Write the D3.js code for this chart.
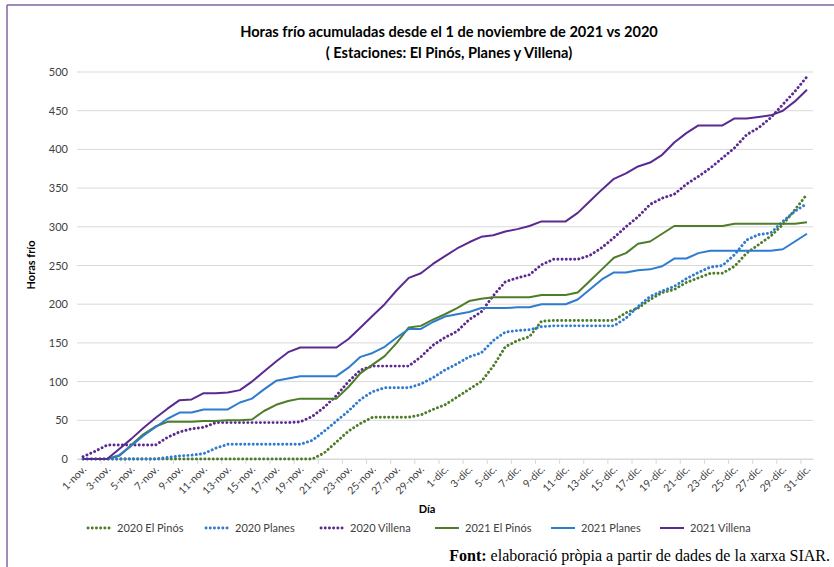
<!DOCTYPE html>
<html><head><meta charset="utf-8">
<script src="https://cdn.jsdelivr.net/npm/d3@7"></script>
<style>body{margin:0;background:#fff}svg{display:block}</style>
</head><body>
<svg id="c" width="834" height="567"></svg>
<script>
const categories = ["1-nov.","2-nov.","3-nov.","4-nov.","5-nov.","6-nov.","7-nov.","8-nov.","9-nov.","10-nov.",
"11-nov.","12-nov.","13-nov.","14-nov.","15-nov.","16-nov.","17-nov.","18-nov.","19-nov.","20-nov.",
"21-nov.","22-nov.","23-nov.","24-nov.","25-nov.","26-nov.","27-nov.","28-nov.","29-nov.","30-nov.",
"1-dic.","2-dic.","3-dic.","4-dic.","5-dic.","6-dic.","7-dic.","8-dic.","9-dic.","10-dic.",
"11-dic.","12-dic.","13-dic.","14-dic.","15-dic.","16-dic.","17-dic.","18-dic.","19-dic.","20-dic.",
"21-dic.","22-dic.","23-dic.","24-dic.","25-dic.","26-dic.","27-dic.","28-dic.","29-dic.","30-dic.","31-dic."];

const pinos2020 = [0,0,0,0,0,0,0,0,0,0,0,0,0,0,0,0,0,0,0,0,8,22,36,46,54,54,54,54,57,64,
70,80,90,100,120,145,153,158,178,179,179,179,179,179,179,189,195,206,215,219,228,234,240,240,249,266,277,288,303,322,342];
const planes2020 = [0,0,0,0,0,0,0,2,4,5,7,14,19,19,19,19,19,19,19,24,36,49,62,77,87,92,92,92,97,105,
115,123,132,137,153,164,166,167,171,172,172,172,172,172,172,182,197,210,217,223,233,241,248,250,264,283,290,292,307,320,330];
const villena2020 = [3,10,18,18,18,18,18,28,35,39,41,47,47,47,47,47,47,47,48,55,67,82,100,115,120,120,120,120,132,147,
157,165,180,190,211,229,234,238,251,258,258,258,263,273,286,300,313,329,337,342,355,365,376,389,402,419,428,441,458,475,494];
const pinos2021 = [0,0,0,4,18,32,42,48,48,48,49,49,50,50,51,62,70,75,78,78,78,78,93,111,122,133,150,170,172,180,
187,195,204,207,209,209,209,209,212,212,212,215,230,245,260,266,278,281,291,301,301,301,301,301,304,304,304,304,304,304,306];
const planes2021 = [0,0,0,5,17,30,41,52,60,60,64,64,64,73,78,90,101,104,107,107,107,107,118,132,137,145,157,168,168,177,
184,187,190,195,195,195,196,196,200,200,200,206,219,232,241,241,244,245,249,259,259,266,269,269,269,269,269,269,271,281,291];
const villena2021 = [0,0,0,13,26,40,53,65,76,77,85,85,86,89,100,113,126,138,144,144,144,144,155,170,185,200,218,234,240,252,
262,272,280,287,289,294,297,301,307,307,307,318,333,348,362,369,378,383,393,409,421,431,431,431,440,440,442,444,450,462,477];

const seriesNames = ["2020 El Pinós","2020 Planes","2020 Villena","2021 El Pinós","2021 Planes","2021 Villena"];
const seriesValues = [pinos2020, planes2020, villena2020, pinos2021, planes2021, villena2021];
const seriesColors = ["#4e7d2a","#2e7bcf","#5a2a90","#4e7d2a","#2e7bcf","#5a2a90"];
const seriesDotted = [true,true,true,false,false,false];
const yTicks = [0,50,100,150,200,250,300,350,400,450,500];

(function(){
const svg = d3.select("#c");
const pL = 77, pR = 813, pT = 72, pB = 459;

// frame
svg.append("line").attr("x1",7).attr("y1",5).attr("x2",834).attr("y2",5).attr("stroke","#8064a2").attr("stroke-width",1.5);
svg.append("line").attr("x1",7).attr("y1",5).attr("x2",7).attr("y2",567).attr("stroke","#8064a2").attr("stroke-width",1.5);

const x = d3.scaleBand().domain(categories).range([pL, pR]).paddingInner(0).paddingOuter(0);
const xc = c => x(c) + x.bandwidth()/2;
const y = d3.scaleLinear().domain([0,500]).range([pB, pT]);

// gridlines
svg.append("g").selectAll("line").data(yTicks).join("line")
  .attr("x1", pL).attr("x2", pR)
  .attr("y1", d => y(d)).attr("y2", d => y(d))
  .attr("stroke", "#d9d9d9").attr("stroke-width", 1);

// y axis labels
const yAxis = d3.axisLeft(y).tickValues(yTicks).tickSize(0).tickPadding(9);
const gy = svg.append("g").attr("transform", `translate(${pL},0)`).call(yAxis);
gy.select(".domain").remove();
gy.selectAll("text").attr("font-family","Lato, 'Open Sans', sans-serif").attr("font-size",11).attr("fill","#404040");

// x axis
const xAxis = d3.axisBottom(x).tickValues(categories.filter((c,i)=>i%2===0)).tickSize(0).tickFormat(d=>d);
const gx = svg.append("g").attr("transform", `translate(0,${pB})`).call(xAxis);
gx.select(".domain").attr("stroke","#d9d9d9");
gx.selectAll(".tick text")
  .attr("font-family","Lato, 'Open Sans', sans-serif").attr("font-size",10.5).attr("fill","#404040")
  .attr("text-anchor","end").attr("dy",0).attr("y",0)
  .attr("transform","translate(4,11) rotate(-45)");
svg.append("g").selectAll("line").data(categories.filter((c,i)=>i%2===0 && i>0)).join("line")
  .attr("x1", d => x(d)).attr("x2", d => x(d))
  .attr("y1", pB).attr("y2", pB+5)
  .attr("stroke","#d9d9d9");

// lines
const line = d3.line().x((d,i)=>xc(categories[i])).y(d=>y(d));
seriesValues.forEach((vals, k) => {
  const p = svg.append("path").datum(vals).attr("d", line)
    .attr("fill","none").attr("stroke", seriesColors[k]);
  if (seriesDotted[k]) {
    p.attr("stroke-width",2.9).attr("stroke-dasharray","0.1 4.1").attr("stroke-linecap","round");
  } else {
    p.attr("stroke-width",2).attr("stroke-linejoin","round");
  }
});

// titles
svg.append("text").attr("x",449).attr("y",37).attr("text-anchor","middle")
  .attr("font-family","Lato, sans-serif").attr("font-weight","bold").attr("font-size",14.6).attr("fill","#000")
  .text("Horas frío acumuladas desde el 1 de noviembre de 2021 vs 2020");
svg.append("text").attr("x",449).attr("y",58).attr("text-anchor","middle")
  .attr("font-family","Lato, sans-serif").attr("font-weight","bold").attr("font-size",14.6).attr("fill","#000")
  .text("( Estaciones: El Pinós, Planes y Villena)");

svg.append("text").attr("transform","translate(35,265) rotate(-90)").attr("text-anchor","middle")
  .attr("font-family","Lato, sans-serif").attr("font-weight","bold").attr("font-size",11).text("Horas frío");
svg.append("text").attr("x",427).attr("y",513).attr("text-anchor","middle")
  .attr("font-family","Lato, sans-serif").attr("font-weight","bold").attr("font-size",11).text("Día");

// legend
const legX = [87, 205, 320, 435, 551, 660];
const lg = svg.append("g");
seriesNames.forEach((n,k) => {
  const g = lg.append("g").attr("transform", `translate(${legX[k]},528)`);
  const l = g.append("line").attr("x1",0).attr("x2",24).attr("y1",0).attr("y2",0).attr("stroke",seriesColors[k]);
  if (seriesDotted[k]) l.attr("stroke-width",2.9).attr("stroke-dasharray","0.1 4.1").attr("stroke-linecap","round").attr("x1",1);
  else l.attr("stroke-width",2);
  g.append("text").attr("x",30).attr("y",4).attr("font-family","Lato, sans-serif").attr("font-size",11).attr("fill","#404040").text(n);
});

// source
const src = svg.append("text").attr("x",830).attr("y",561).attr("text-anchor","end")
  .attr("font-family","'Liberation Serif', 'Times New Roman', serif").attr("font-size",16).attr("fill","#000");
src.append("tspan").attr("font-weight","bold").text("Font:");
src.append("tspan").text(" elaboració pròpia a partir de dades de la xarxa SIAR.");
})();
</script>
</body></html>
